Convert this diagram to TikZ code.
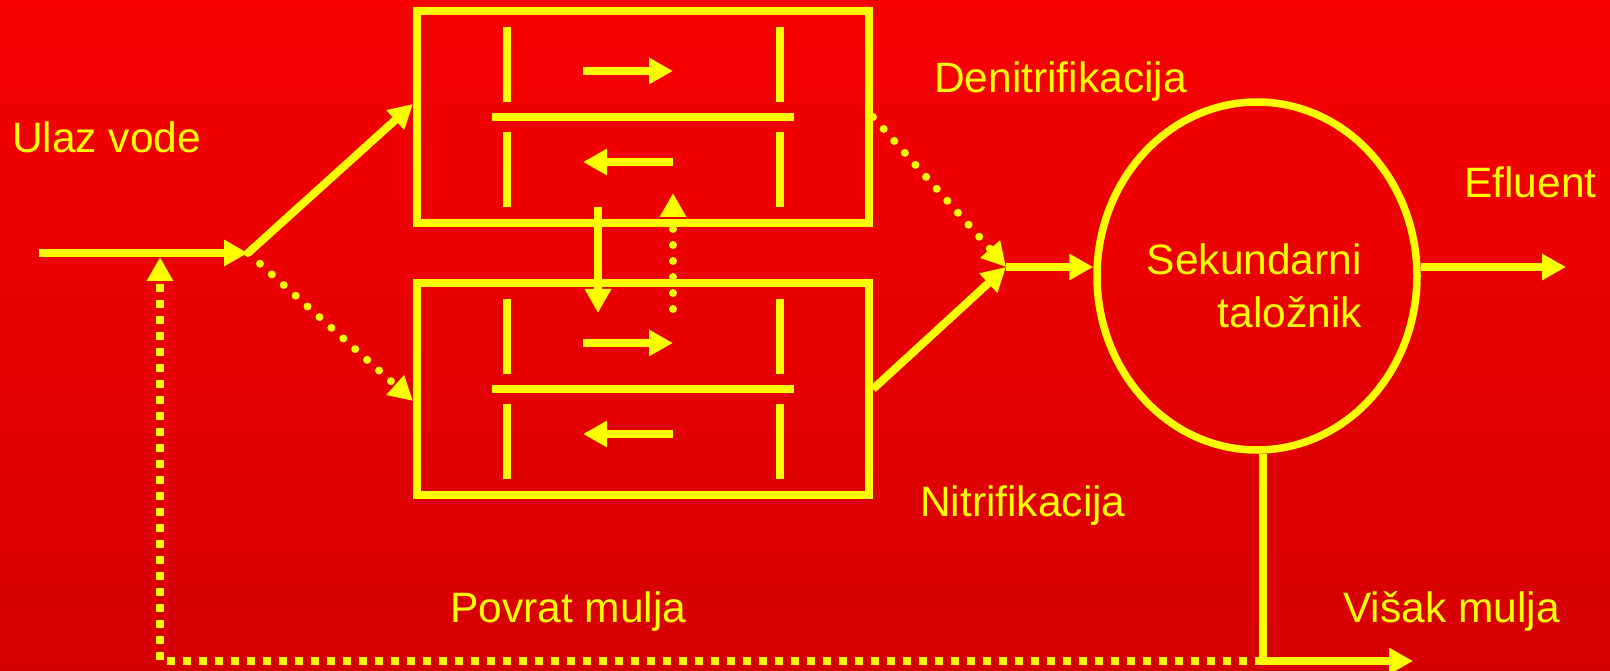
\documentclass[tikz,border=0pt]{standalone}
\usepackage{fontspec}
\setmainfont{Liberation Sans}
\usetikzlibrary{arrows.meta,shapes.geometric,calc}
\definecolor{ylw}{RGB}{255,255,0}
\definecolor{bgtop}{RGB}{248,0,0}
\definecolor{bgbot}{RGB}{213,0,0}
\tikzset{
  tip/.style={-{Triangle[length=24pt,width=25pt]}},
  flow/.style={draw=ylw, line width=8pt, tip},
  dots/.style={draw=ylw, line width=8pt, line cap=round, dash pattern=on 0pt off 16pt, tip},
  squares/.style={draw=ylw, line width=8pt, dash pattern=on 8pt off 8pt, tip},
  tank/.style={draw=ylw, line width=8pt, minimum width=452pt, minimum height=212pt, inner sep=0pt},
  settler/.style={draw=ylw, ellipse, line width=7.5pt, minimum width=320pt, minimum height=348pt, inner sep=0pt},
  baffle/.style={draw=ylw, line width=8pt},
  lab/.style={text=ylw, inner sep=0pt, font=\fontsize{42.5}{52}\selectfont}
}
\begin{document}
\begin{tikzpicture}[x=1pt, y=-1pt]
\shade[top color=bgtop, bottom color=bgbot] (0,0) rectangle (1610,671);
\useasboundingbox (0,0) rectangle (1610,671);

% tanks and settler
\node[tank] (den) at (643,117) {};
\node[tank] (nit) at (643,389) {};
\node[settler] (sek) at (1257,276) {};

% baffles and flow arrows inside the tanks
\foreach \t in {den,nit}{
  \begin{scope}[shift={(\t.center)}]
    \draw[baffle] (-136,-90) -- (-136,-15);
    \draw[baffle] (-136,15) -- (-136,90);
    \draw[baffle] (137,-90) -- (137,-15);
    \draw[baffle] (137,15) -- (137,90);
    \draw[baffle] (-151,0) -- (151,0);
    \draw[flow] (-60,-46) -- (30,-46);
    \draw[flow] (30,45) -- (-60,45);
  \end{scope}
}

% labels
\node[lab, anchor=base west] (ulaz) at (12,153) {Ulaz vode};
\node[lab, anchor=base west] (denlab) at (934,93) {Denitrifikacija};
\node[lab, anchor=base west] (nitlab) at (920,516) {Nitrifikacija};
\node[lab, anchor=base east] (sek1) at (1362,275) {Sekundarni};
\node[lab, anchor=base east] (sek2) at (1362,327) {taložnik};
\node[lab, anchor=base west] (eflab) at (1464,198) {Efluent};
\node[lab, anchor=base west] (visak) at (1343,622) {Višak mulja};
\node[lab, anchor=base west] (povrat) at (450,622) {Povrat mulja};

% coordinates
\coordinate (in) at (39,253);
\coordinate (j) at (248,253);
\coordinate (k) at (1006,267);
\coordinate (out) at (1566,267);
\coordinate (vs) at ($(sek.south)+(6,0)$);
\coordinate (vend) at (1413,661);
\coordinate (ret) at (160,257);

% connectors
\draw[flow] (in) -- (j);
\draw[flow] (j) -- ($(den.west)+(0,-13)$);
\draw[dots] (j) -- ($(nit.west)+(0,12)$);
\draw[flow] ($(den.south)+(-45,-20)$) -- ($(nit.north)+(-45,34)$);
\draw[dots] ($(nit.north)+(30,30)$) -- ($(den.south)+(30,-34)$);
\draw[dots] (den.east) -- (k);
\draw[flow] (nit.east) -- (k);
\draw[flow] (k) -- (k -| sek.west);
\draw[flow] (k -| sek.east) -- (out);
\draw[flow] (vs) |- (vend);
\draw[squares] (vs |- vend) -| (ret);
\end{tikzpicture}
\end{document}
